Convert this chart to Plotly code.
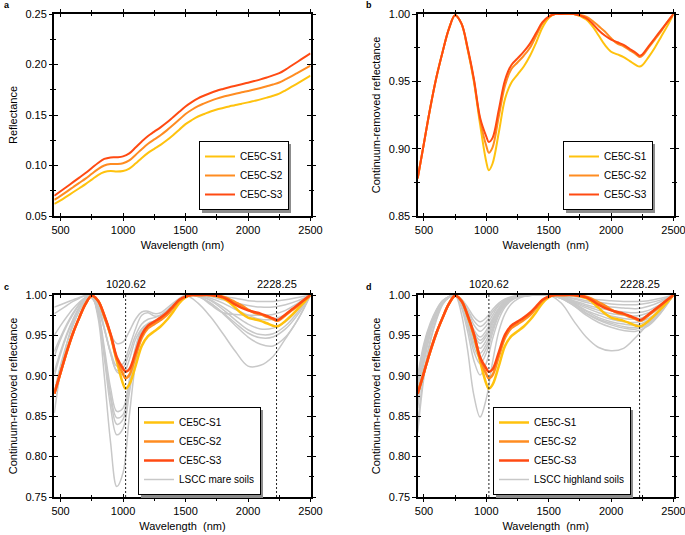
import plotly.graph_objects as go

# ---------------- data ----------------
WL_R = [450, 500, 550, 600, 650, 700, 750, 800, 850, 900, 950, 1000, 1050, 1100,
        1150, 1200, 1250, 1300, 1350, 1400, 1450, 1500, 1550, 1600, 1650, 1700,
        1750, 1800, 1850, 1900, 1950, 2000, 2050, 2100, 2150, 2200, 2250, 2300,
        2350, 2400, 2450, 2500]
REFL_S1 = [0.0620, 0.0655, 0.0695, 0.0735, 0.0775, 0.0815, 0.0860, 0.0905, 0.0935, 0.0945,
           0.0940, 0.0945, 0.0970, 0.1020, 0.1075, 0.1125, 0.1165, 0.1205, 0.1250, 0.1300,
           0.1355, 0.1410, 0.1450, 0.1485, 0.1510, 0.1535, 0.1555, 0.1570, 0.1585, 0.1600,
           0.1612, 0.1625, 0.1640, 0.1655, 0.1672, 0.1690, 0.1712, 0.1745, 0.1780, 0.1815,
           0.1852, 0.1890]
REFL_S2 = [0.0660, 0.0700, 0.0742, 0.0785, 0.0828, 0.0870, 0.0918, 0.0965, 0.1000, 0.1015,
           0.1015, 0.1022, 0.1050, 0.1105, 0.1162, 0.1215, 0.1258, 0.1300, 0.1348, 0.1400,
           0.1455, 0.1510, 0.1552, 0.1588, 0.1615, 0.1640, 0.1662, 0.1680, 0.1695, 0.1710,
           0.1725, 0.1738, 0.1752, 0.1768, 0.1785, 0.1802, 0.1822, 0.1852, 0.1885, 0.1920,
           0.1955, 0.1990]
REFL_S3 = [0.0700, 0.0745, 0.0790, 0.0835, 0.0880, 0.0925, 0.0975, 0.1025, 0.1065, 0.1080,
           0.1082, 0.1090, 0.1120, 0.1178, 0.1238, 0.1292, 0.1335, 0.1378, 0.1425, 0.1478,
           0.1532, 0.1585, 0.1628, 0.1665, 0.1693, 0.1718, 0.1740, 0.1758, 0.1775, 0.1790,
           0.1805, 0.1820, 0.1836, 0.1853, 0.1872, 0.1892, 0.1915, 0.1950, 0.1990, 0.2030,
           0.2070, 0.2110]

WL_CE = [450, 500, 550, 600, 650, 700, 750, 800, 850, 900, 950, 1000, 1020, 1050, 1100,
         1150, 1200, 1250, 1300, 1350, 1400, 1450, 1500, 1550, 1600, 1700, 1800, 1850,
         1900, 1950, 2000, 2050, 2100, 2150, 2200, 2228, 2250, 2300, 2350, 2400, 2450, 2500]
CR_S1 = [0.878, 0.904, 0.930, 0.953, 0.972, 0.989, 0.999, 0.993, 0.974, 0.950, 0.918, 0.890,
         0.884, 0.889, 0.912, 0.937, 0.949, 0.955, 0.961, 0.969, 0.979, 0.990, 0.997, 1.0,
         1.0, 1.0, 0.996, 0.991, 0.984, 0.977, 0.972, 0.970, 0.968, 0.965, 0.962, 0.961,
         0.962, 0.968, 0.975, 0.983, 0.991, 1.0]
CR_S2 = [0.878, 0.904, 0.930, 0.953, 0.972, 0.989, 0.999, 0.993, 0.974, 0.951, 0.921, 0.902,
         0.897, 0.901, 0.924, 0.947, 0.959, 0.964, 0.969, 0.975, 0.984, 0.993, 0.998, 1.0,
         1.0, 1.0, 0.998, 0.995, 0.991, 0.987, 0.982, 0.978, 0.976, 0.973, 0.970, 0.968,
         0.969, 0.975, 0.981, 0.987, 0.994, 1.0]
CR_S3 = [0.878, 0.904, 0.930, 0.953, 0.972, 0.989, 0.999, 0.993, 0.975, 0.952, 0.923, 0.909,
         0.905, 0.908, 0.929, 0.951, 0.962, 0.967, 0.972, 0.978, 0.986, 0.994, 0.998, 1.0,
         1.0, 1.0, 0.997, 0.993, 0.988, 0.984, 0.981, 0.979, 0.977, 0.974, 0.971, 0.969,
         0.970, 0.976, 0.982, 0.988, 0.994, 1.0]

WL_G = [450, 500, 550, 600, 650, 700, 750, 800, 850, 900, 950, 1000, 1050, 1100, 1150,
        1200, 1250, 1300, 1400, 1500, 1600, 1700, 1800, 1900, 2000, 2100, 2200, 2300,
        2400, 2500]

MARE_1 = [0.985, 0.988, 0.991, 0.994, 0.997, 0.999, 0.997, 0.988, 0.970, 0.952, 0.940, 0.942, 0.955, 0.970, 0.979,
          0.980, 0.977, 0.978, 0.990, 1.0, 1.0, 1.0, 0.998, 0.996, 0.993, 0.992, 0.992, 0.994, 0.997, 1.0]
MARE_2 = [0.977, 0.982, 0.987, 0.992, 0.996, 0.999, 0.996, 0.982, 0.958, 0.930, 0.912, 0.915, 0.935, 0.958, 0.975,
          0.978, 0.974, 0.975, 0.988, 1.0, 1.0, 0.998, 0.994, 0.990, 0.987, 0.985, 0.985, 0.988, 0.993, 1.0]
MARE_3 = [0.950, 0.962, 0.973, 0.983, 0.991, 0.997, 0.998, 0.985, 0.958, 0.928, 0.907, 0.910, 0.928, 0.950, 0.964,
          0.970, 0.972, 0.975, 0.987, 0.999, 0.999, 0.988, 0.978, 0.976, 0.975, 0.975, 0.976, 0.981, 0.990, 1.0]
MARE_4 = [0.924, 0.945, 0.962, 0.976, 0.988, 0.996, 0.999, 0.988, 0.960, 0.928, 0.905, 0.902, 0.920, 0.945, 0.958,
          0.963, 0.966, 0.971, 0.985, 0.999, 1.0, 0.996, 0.990, 0.982, 0.975, 0.970, 0.970, 0.976, 0.987, 1.0]
MARE_5 = [0.930, 0.948, 0.964, 0.978, 0.989, 0.997, 0.998, 0.980, 0.935, 0.885, 0.856, 0.860, 0.895, 0.935, 0.958,
          0.965, 0.968, 0.972, 0.985, 0.999, 0.999, 0.994, 0.985, 0.974, 0.964, 0.958, 0.959, 0.967, 0.982, 1.0]
MARE_6 = [0.905, 0.930, 0.952, 0.970, 0.985, 0.995, 0.998, 0.978, 0.930, 0.877, 0.848, 0.852, 0.890, 0.932, 0.955,
          0.962, 0.966, 0.970, 0.984, 0.999, 0.999, 0.993, 0.982, 0.969, 0.957, 0.951, 0.952, 0.962, 0.979, 1.0]
MARE_7 = [0.900, 0.927, 0.950, 0.969, 0.984, 0.995, 0.998, 0.977, 0.927, 0.872, 0.840, 0.846, 0.885, 0.930, 0.953,
          0.961, 0.965, 0.970, 0.984, 0.999, 0.998, 0.990, 0.978, 0.965, 0.953, 0.947, 0.948, 0.958, 0.976, 1.0]
MARE_8 = [0.880, 0.913, 0.940, 0.962, 0.980, 0.993, 0.998, 0.976, 0.922, 0.862, 0.827, 0.835, 0.878, 0.925, 0.951,
          0.960, 0.964, 0.969, 0.983, 0.999, 0.998, 0.990, 0.977, 0.962, 0.948, 0.939, 0.937, 0.948, 0.970, 1.0]
MARE_9 = [0.854, 0.905, 0.940, 0.966, 0.984, 0.995, 0.998, 0.972, 0.900, 0.818, 0.763, 0.780, 0.850, 0.915, 0.953,
          0.963, 0.967, 0.971, 0.984, 0.999, 0.990, 0.973, 0.952, 0.930, 0.912, 0.913, 0.924, 0.946, 0.970, 1.0]
MARE = [MARE_1, MARE_2, MARE_3, MARE_4, MARE_5, MARE_6, MARE_7, MARE_8, MARE_9]

HIGH_1 = [0.840, 0.904, 0.944, 0.971, 0.989, 0.997, 1.0, 0.977, 0.932, 0.876, 0.849, 0.872, 0.917, 0.955, 0.977,
          0.989, 0.995, 0.998, 1.0, 1.0, 0.990, 0.968, 0.948, 0.935, 0.931, 0.934, 0.948, 0.965, 0.982, 1.0]
HIGH_2 = [0.860, 0.916, 0.951, 0.975, 0.990, 0.997, 1.0, 0.985, 0.955, 0.919, 0.901, 0.916, 0.946, 0.970, 0.985,
          0.993, 0.997, 0.999, 1.0, 1.0, 0.996, 0.987, 0.975, 0.966, 0.960, 0.956, 0.955, 0.962, 0.978, 1.0]
HIGH_3 = [0.870, 0.922, 0.955, 0.977, 0.991, 0.997, 1.0, 0.987, 0.962, 0.930, 0.915, 0.928, 0.953, 0.975, 0.987,
          0.994, 0.997, 0.999, 1.0, 1.0, 0.996, 0.987, 0.977, 0.969, 0.963, 0.959, 0.958, 0.964, 0.979, 1.0]
HIGH_4 = [0.885, 0.931, 0.960, 0.979, 0.992, 0.998, 1.0, 0.988, 0.965, 0.936, 0.922, 0.934, 0.957, 0.977, 0.988,
          0.995, 0.998, 0.999, 1.0, 1.0, 0.996, 0.988, 0.978, 0.970, 0.965, 0.961, 0.960, 0.966, 0.980, 1.0]
HIGH_5 = [0.830, 0.898, 0.941, 0.969, 0.988, 0.997, 1.0, 0.989, 0.968, 0.941, 0.928, 0.939, 0.960, 0.978, 0.989,
          0.995, 0.998, 0.999, 1.0, 1.0, 0.996, 0.989, 0.980, 0.972, 0.967, 0.964, 0.963, 0.969, 0.982, 1.0]
HIGH_6 = [0.875, 0.925, 0.956, 0.978, 0.991, 0.998, 1.0, 0.990, 0.970, 0.946, 0.934, 0.944, 0.964, 0.980, 0.990,
          0.995, 0.998, 0.999, 1.0, 1.0, 0.997, 0.990, 0.981, 0.975, 0.970, 0.967, 0.966, 0.971, 0.983, 1.0]
HIGH_7 = [0.890, 0.934, 0.962, 0.980, 0.992, 0.998, 1.0, 0.991, 0.973, 0.951, 0.940, 0.949, 0.967, 0.982, 0.991,
          0.996, 0.998, 0.999, 1.0, 1.0, 0.997, 0.991, 0.984, 0.978, 0.974, 0.971, 0.970, 0.975, 0.985, 1.0]
HIGH_8 = [0.865, 0.919, 0.953, 0.976, 0.991, 0.997, 1.0, 0.992, 0.975, 0.954, 0.944, 0.952, 0.969, 0.983, 0.992,
          0.996, 0.998, 0.999, 1.0, 1.0, 0.997, 0.992, 0.986, 0.981, 0.977, 0.975, 0.974, 0.978, 0.987, 1.0]
HIGH_9 = [0.895, 0.937, 0.963, 0.981, 0.993, 0.998, 1.0, 0.992, 0.977, 0.957, 0.948, 0.956, 0.971, 0.984, 0.992,
          0.996, 0.998, 0.999, 1.0, 1.0, 0.998, 0.993, 0.988, 0.984, 0.981, 0.979, 0.978, 0.981, 0.989, 1.0]
HIGH_10 = [0.880, 0.928, 0.958, 0.978, 0.992, 0.998, 1.0, 0.993, 0.980, 0.963, 0.955, 0.962, 0.975, 0.987, 0.993,
           0.997, 0.999, 1.0, 1.0, 1.0, 0.998, 0.995, 0.991, 0.987, 0.985, 0.984, 0.983, 0.986, 0.992, 1.0]
HIGH_11 = [0.900, 0.940, 0.965, 0.982, 0.993, 0.998, 1.0, 0.994, 0.982, 0.968, 0.961, 0.967, 0.979, 0.988, 0.994,
           0.997, 0.999, 1.0, 1.0, 1.0, 0.999, 0.996, 0.993, 0.991, 0.989, 0.988, 0.988, 0.990, 0.994, 1.0]
HIGH_12 = [0.870, 0.922, 0.955, 0.977, 0.991, 0.997, 1.0, 0.995, 0.985, 0.973, 0.967, 0.972, 0.982, 0.990, 0.995,
           0.998, 0.999, 1.0, 1.0, 1.0, 0.999, 0.998, 0.996, 0.994, 0.993, 0.992, 0.992, 0.993, 0.996, 1.0]
HIGHLAND = [HIGH_1, HIGH_2, HIGH_3, HIGH_4, HIGH_5, HIGH_6, HIGH_7, HIGH_8, HIGH_9,
            HIGH_10, HIGH_11, HIGH_12]

SAMPLE_NAMES = ["CE5C-S1", "CE5C-S2", "CE5C-S3"]
BAND_CENTERS = [1020.62, 2228.25]
BAND_LABELS = ["1020.62", "2228.25"]

for arr in [REFL_S1, REFL_S2, REFL_S3]:
    assert len(arr) == len(WL_R)
for arr in [CR_S1, CR_S2, CR_S3]:
    assert len(arr) == len(WL_CE)
for arr in MARE + HIGHLAND:
    assert len(arr) == len(WL_G)

# ---------------- style ----------------
FONT = "Arial, 'Liberation Sans', Helvetica, sans-serif"
COLORS = ["#FFC20E", "#FF8C21", "#FF4A12"]
GRAY = "#C8C8C8"
W, H = 685, 535

X_DOM = [[54.3 / W, 310.5 / W], [417.7 / W, 673.5 / W]]
Y_DOM = [[1 - 216 / H, 1 - 14 / H], [1 - 497 / H, 1 - 295 / H]]

fig = go.Figure()

for name, ys, col, rk in zip(SAMPLE_NAMES, [REFL_S1, REFL_S2, REFL_S3], COLORS, [1, 2, 3]):
    fig.add_trace(go.Scatter(x=WL_R, y=ys, mode="lines", name=name, legendrank=rk,
                             line=dict(color=col, width=2, shape="spline"),
                             xaxis="x", yaxis="y", legend="legend"))


def add_ce5(xa, ya, leg, width):
    for name, ys, col, rk in zip(SAMPLE_NAMES, [CR_S1, CR_S2, CR_S3], COLORS, [1, 2, 3]):
        fig.add_trace(go.Scatter(x=WL_CE, y=ys, mode="lines", name=name, legendrank=rk,
                                 line=dict(color=col, width=width, shape="spline"),
                                 xaxis=xa, yaxis=ya, legend=leg))


def add_gray(curves, label, xa, ya, leg):
    for i, ys in enumerate(curves):
        fig.add_trace(go.Scatter(x=WL_G, y=ys, mode="lines", name=label, legendrank=4,
                                 showlegend=(i == 0), legendgroup=label,
                                 line=dict(color=GRAY, width=1.5, shape="spline"),
                                 xaxis=xa, yaxis=ya, legend=leg))


add_ce5("x2", "y2", "legend2", 2)
add_gray(MARE, "LSCC mare soils", "x3", "y3", "legend3")
add_ce5("x3", "y3", "legend3", 2.5)
add_gray(HIGHLAND, "LSCC highland soils", "x4", "y4", "legend4")
add_ce5("x4", "y4", "legend4", 2.5)

for i in range(1, 5):
    fig.add_trace(go.Scatter(x=[], y=[], xaxis=f"x{i+4}", yaxis=f"y{i}", showlegend=False, hoverinfo="skip"))
    fig.add_trace(go.Scatter(x=[], y=[], xaxis=f"x{i}", yaxis=f"y{i+4}", showlegend=False, hoverinfo="skip"))

panels = [
    (1, X_DOM[0], Y_DOM[0], [0.05, 0.25], "Reflectance", "Wavelength (nm)"),
    (2, X_DOM[1], Y_DOM[0], [0.85, 1.00], "Continuum-removed reflectance", "Wavelength  (nm)"),
    (3, X_DOM[0], Y_DOM[1], [0.75, 1.00], "Continuum-removed reflectance", "Wavelength  (nm)"),
    (4, X_DOM[1], Y_DOM[1], [0.75, 1.00], "Continuum-removed reflectance", "Wavelength  (nm)"),
]

axis_common = dict(showline=True, linecolor="black", linewidth=1.5, mirror="ticks",
                   showgrid=False, zeroline=False, tickcolor="black", tickwidth=1.3,
                   automargin=False, ticklabeloverflow="allow",
                   tickfont=dict(family=FONT, size=11, color="black"))

layout = dict(width=W, height=H, margin=dict(l=0, r=0, t=0, b=0, autoexpand=False),
              paper_bgcolor="white", plot_bgcolor="white",
              font=dict(family=FONT, size=11, color="black"), showlegend=True)

for idx, xd, yd, yr, ytitle, xtitle in panels:
    xk = "xaxis" if idx == 1 else f"xaxis{idx}"
    yk = "yaxis" if idx == 1 else f"yaxis{idx}"
    xa = "x" if idx == 1 else f"x{idx}"
    ya = "y" if idx == 1 else f"y{idx}"
    xt = dict(tick0=500, dtick=500)
    xminor = dict(tick0=500, dtick=250, ticklen=2.2, tickwidth=1.2, tickcolor="black")
    yt = dict(tick0=yr[0], dtick=0.05, tickformat=".2f")
    yminor = dict(tick0=yr[0], dtick=0.025, ticklen=2.2, tickwidth=1.2, tickcolor="black")
    layout[xk] = dict(domain=xd, anchor=ya, range=[450, 2500], ticks="outside", ticklen=3.5,
                      minor=dict(ticks="outside", **xminor),
                      title=dict(text=xtitle, font=dict(family=FONT, size=11), standoff=6),
                      **xt, **axis_common)
    layout[yk] = dict(domain=yd, anchor=xa, range=yr, ticks="outside", ticklen=3.5,
                      minor=dict(ticks="outside", **yminor),
                      title=dict(text=ytitle, font=dict(family=FONT, size=11), standoff=6),
                      **yt, **axis_common)
    layout[f"xaxis{idx+4}"] = dict(overlaying=xa, anchor=ya, range=[450, 2500], ticks="inside",
                                   ticklen=3.5, showticklabels=False,
                                   minor=dict(ticks="inside", **xminor), **xt, **axis_common)
    layout[f"yaxis{idx+4}"] = dict(overlaying=ya, anchor=xa, range=yr, ticks="inside",
                                   ticklen=3.5, showticklabels=False,
                                   minor=dict(ticks="inside", **yminor), **yt, **axis_common)

# legends: (left px, top px, width px, height px) -- size follows plotly's legend box
LEG_BOX = {"legend": (199, 141, 89, 69), "legend2": (563, 141, 89, 69),
           "legend3": (138, 407, 122, 88), "legend4": (493, 407, 137, 88)}
shapes = []
for key, (lx, ty, bw_, bh_) in LEG_BOX.items():
    layout[key] = dict(x=lx / W, y=1 - ty / H, xanchor="left", yanchor="top",
                       bgcolor="white", bordercolor="black", borderwidth=1,
                       font=dict(family=FONT, size=10, color="black"),
                       traceorder="normal", tracegroupgap=0, itemwidth=30)
    shapes.append(dict(type="rect", xref="paper", yref="paper",
                       x0=(lx + 3) / W, x1=(lx + bw_ + 3) / W,
                       y0=1 - (ty + bh_ + 3) / H, y1=1 - (ty + 3) / H,
                       fillcolor="#8c8c8c", line=dict(width=0), layer="above"))
layout["shapes"] = shapes

fig.update_layout(**layout)

for xa, ya in [("x3", "y3"), ("x4", "y4")]:
    for bc, lab in zip(BAND_CENTERS, BAND_LABELS):
        fig.add_shape(type="line", xref=xa, yref=f"{ya} domain", x0=bc, x1=bc, y0=0, y1=1,
                      line=dict(color="#222222", width=1, dash="2px,2px"), layer="above")
        fig.add_annotation(x=bc, xref=xa, y=1, yref=f"{ya} domain", text=lab, showarrow=False,
                           yanchor="bottom", yshift=3, font=dict(family=FONT, size=11, color="black"))

for txt, px, py in [("a", 2, 5), ("b", 364, 5), ("c", 2, 287), ("d", 364, 287)]:
    fig.add_annotation(x=px / W, y=1 - py / H, xref="paper", yref="paper", text=f"<b>{txt}</b>",
                       showarrow=False, xanchor="left", yanchor="middle",
                       font=dict(family=FONT, size=9, color="black"))

fig.write_html("out.html", config={"displayModeBar": False},
               post_script="document.body.style.margin='0px';document.body.style.overflow='hidden';")
